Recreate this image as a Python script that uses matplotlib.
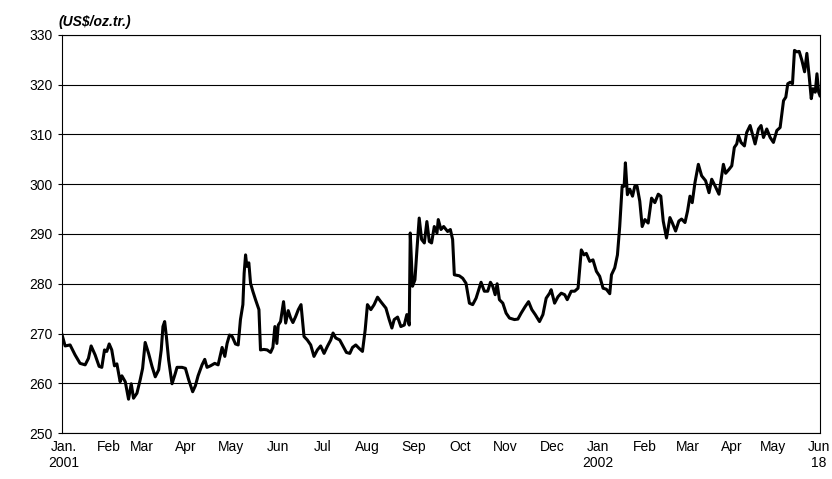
import numpy as np
import matplotlib.pyplot as plt

plt.rcParams['font.family'] = ['Liberation Sans', 'DejaVu Sans']

# days since 2 Jan 2001, gold price (US$/oz.tr.)
days = [0, 2.2, 5.7, 9.2, 12.7, 16.3, 18.6, 20.5, 23.3, 26.1, 28, 29.9, 31.5, 33.2, 35, 36.9,
        38.6, 40.9, 42.1, 44.5, 46.8, 48.7, 50.3, 52.7, 55, 56.7, 58.5, 60.9, 63.3, 65.6, 68,
        69.8, 71, 72.2, 73.4, 75, 77.4, 79.7, 80.9, 84.4, 86.8, 89.1, 91.9, 93.8, 95.7, 98.5,
        100.4, 102, 104.4, 107.4, 109.8, 112.6, 114.5, 116.1, 117.8, 119.7, 122, 123.9, 125.5,
        127.2, 128.1, 129.1, 130, 131.4, 132.6, 134.2, 136.1, 138.5, 139.6, 142, 144.3, 146.7,
        148.3, 149.7, 151.1, 152.1, 153.7, 155.8, 157.3, 159.1, 160.8, 162.4, 164.3, 166.2,
        168.1, 170.2, 172.5, 174.9, 177.2, 179.6, 181.9, 184.3, 186.6, 189, 190.6, 192.5,
        195.3, 197.7, 200, 202.4, 204.3, 206.6, 209, 211.3, 213.2, 214.8, 217.2, 219.5, 221.9,
        224.2, 227.8, 230.1, 232, 233.6, 236, 238.3,
        240.7, 242.5, 244.2, 244.9, 246.5, 248.2, 249.6, 251.2, 252.9, 254.8, 256.6, 258.3,
        259.9, 261.8, 263.7, 264.6, 266.5, 268.4, 271.2, 273.1, 274.7, 275.9, 279.4, 281.8,
        284.1, 286.5, 288.8, 291.2, 294.7, 297, 299.4, 301.3, 302.9, 304.6, 306, 307.6, 310,
        312.3, 314.7, 318.2, 320.6, 322.9, 325.7, 328.1, 330.4, 332.8, 335.8, 338.2, 340.5,
        342.9, 344, 346.4, 348.8, 351.1, 353.5, 355.3, 358.1, 360.5, 362.9, 365.2, 367.1,
        368.7, 371.1, 373.4, 375.8, 378.1, 380.5, 382.8, 385.2, 386.4, 388.7, 390.6, 392.2,
        393.9, 395.3, 396.2, 397.6, 399.3, 401.2, 402.8, 404.4, 406.3, 408, 409.9, 412.2,
        414.6, 416.9, 419.3, 421.1, 422.8, 425.1, 427.5, 429.1, 431.5, 433.8, 435.7, 438.1,
        439.9, 441.6, 443.2, 445.1, 447.5, 449.8, 452.6, 455, 456.9, 459.2, 462, 463.9, 465.1,
        466.7, 469.1, 471, 472.8, 474.5, 475.7, 477.5, 479.9, 481.5, 483.9, 485.5, 487.4,
        489.8, 491.6, 493.3, 495.6, 498, 500.3, 502.7, 505, 507.4, 509, 510.4, 512.1, 513.7,
        515.1, 516.8, 518.4, 520.3, 522.2, 523.8, 525.5, 526.9, 528.1, 529.7, 530.9, 532.1, 533]
price = [269.8, 267.5, 267.7, 265.7, 264, 263.7, 265, 267.5, 265.7, 263.4, 263.2, 266.7, 266.4,
         267.9, 266.7, 263.5, 263.9, 260.3, 261.5, 260.3, 256.8, 259.9, 257, 258, 260.7, 263,
         268.2, 266, 263.4, 261.3, 262.7, 266.7, 271.4, 272.4, 269.4, 264.7, 259.9, 262, 263.2,
         263.2, 263, 260.7, 258.3, 259.5, 261.5, 263.7, 264.8, 263.2, 263.5, 264, 263.7, 267.2,
         265.4, 268, 269.7, 269.4, 267.9, 267.7, 272.8, 275.8, 282.1, 285.8, 283.5, 284.2,
         280.1, 278.5, 276.8, 274.8, 266.7, 266.8, 266.7, 266.2, 267.2, 271.4, 268, 271.7,
         272.4, 276.4, 272.1, 274.6, 273.1, 272.2, 273.4, 274.8, 275.8, 269.4, 268.7, 267.7,
         265.4, 266.7, 267.5, 266, 267.4, 268.7, 270.1, 269.1, 268.7, 267.4, 266.2, 266, 267.2,
         267.7, 267, 266.4, 270.7, 275.8, 274.8, 275.8, 277.3, 276.4, 275.1, 272.8, 271.1,
         272.8, 273.3, 271.4,
         271.7, 273.8, 271.7, 290.2, 279.5, 280.8, 286.8, 293.2, 288.9, 288.2, 292.5, 288.5,
         288.2, 291.5, 290.2, 292.9, 290.9, 291.5, 290.5, 290.9, 288.9, 281.8, 281.6, 281.1,
         280.1, 276.1, 275.8, 277.1, 280.3, 278.5, 278.5, 280.3, 279.5, 277.8, 280, 276.8,
         276.1, 274.1, 273.1, 272.8, 272.9, 274.1, 275.4, 276.4, 274.8, 273.8, 272.4, 273.8,
         277.1, 278.1, 278.8, 276.1, 277.4, 278.1, 277.8, 276.8, 278.5, 278.5, 279.1, 286.8,
         285.8, 286.1, 284.5, 284.8, 282.5, 281.5, 279.1, 278.9, 278, 281.8, 283.2, 285.8,
         291.5, 299.6, 299.6, 304.3, 297.9, 299, 297.6, 299.6, 299.6, 296.6, 291.5, 292.9,
         292.2, 297.2, 296.3, 298, 297.6, 292.6, 289.2, 293.3, 292.3, 290.6, 292.6, 293,
         292.3, 294.6, 297.6, 296.3, 300.3, 304, 301.7, 300.7, 298.3, 301, 299.7, 298, 301.7,
         304, 302.2, 303, 303.7, 307.4, 308.1, 309.8, 308.4, 307.7, 310.4, 311.8, 310.1,
         308.1, 311.1, 311.8, 309.4, 311.1, 309.4, 308.4, 310.8, 311.4, 316.8, 317.5, 320.2,
         320.5, 320.2, 326.9, 326.6, 326.7, 324.9, 322.6, 326.3, 321.5, 317.2, 319.2, 318.5,
         322.2, 318.5, 317.8]

tick_days = [1, 33, 56, 87, 119, 152, 183, 215, 247, 280, 312, 345, 377, 410, 440, 471, 500, 532]
tick_labels = ['Jan.\n2001', 'Feb', 'Mar', 'Apr', 'May', 'Jun', 'Jul', 'Aug', 'Sep', 'Oct',
               'Nov', 'Dec', 'Jan\n2002', 'Feb', 'Mar', 'Apr', 'May', 'Jun\n18']

fig = plt.figure(figsize=(8.32, 4.79), dpi=100)
ax = fig.add_axes([0.0745, 0.096, 0.911, 0.831])
ax.plot(days, price, color='black', lw=2.2)
ax.set_xlim(0, 533)
ax.set_ylim(250, 330)
ax.set_yticks(np.arange(250, 331, 10))
ax.grid(axis='y', color='black', lw=0.8)
ax.set_axisbelow(True)
ax.set_xticks(tick_days)
ax.set_xticklabels(tick_labels, va='top', ha='center')
ax.tick_params(axis='x', length=0, labelsize=10, pad=5)
ax.tick_params(axis='y', length=3, labelsize=10, direction='out')
for s in ax.spines.values():
    s.set_linewidth(0.8)
ax.text(-0.005, 1.015, '(US$/oz.tr.)', transform=ax.transAxes, fontsize=10,
        fontweight='bold', fontstyle='italic', ha='left', va='bottom')

fig.savefig('out.png')
